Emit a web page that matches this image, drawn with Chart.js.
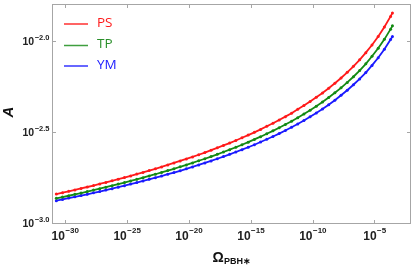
<!DOCTYPE html>
<html><head><meta charset="utf-8">
<script src="https://cdn.jsdelivr.net/npm/chart.js@4/dist/chart.umd.min.js"></script>
<style>html,body{margin:0;padding:0;background:#fff;}canvas{display:block;}</style>
</head><body>
<canvas id="c" width="415" height="265"></canvas>
<script>
// log10(Omega_PBH*) sample positions
const logOmega = [-30.7,-30.2,-29.7,-29.2,-28.7,-28.2,-27.7,-27.2,-26.7,-26.2,-25.7,-25.2,-24.7,-24.2,-23.7,-23.2,-22.7,-22.2,-21.7,-21.2,-20.7,-20.2,-19.7,-19.2,-18.7,-18.2,-17.7,-17.2,-16.7,-16.2,-15.7,-15.2,-14.7,-14.2,-13.7,-13.2,-12.7,-12.2,-11.7,-11.2,-10.7,-10.2,-9.7,-9.2,-8.7,-8.2,-7.7,-7.2,-6.7,-6.2,-5.7,-5.2,-4.7,-4.2,-3.7,-3.55];
// log10(A) for each model
const logA_PS = [-2.840,-2.832,-2.825,-2.817,-2.809,-2.801,-2.793,-2.784,-2.776,-2.767,-2.758,-2.749,-2.740,-2.730,-2.721,-2.711,-2.701,-2.691,-2.680,-2.669,-2.658,-2.647,-2.636,-2.624,-2.612,-2.599,-2.586,-2.573,-2.560,-2.546,-2.531,-2.516,-2.501,-2.485,-2.468,-2.451,-2.433,-2.415,-2.396,-2.375,-2.354,-2.332,-2.309,-2.285,-2.259,-2.232,-2.203,-2.172,-2.139,-2.103,-2.064,-2.022,-1.975,-1.923,-1.865,-1.846];
const logA_TP = [-2.863,-2.856,-2.849,-2.841,-2.834,-2.826,-2.818,-2.810,-2.802,-2.794,-2.785,-2.777,-2.768,-2.759,-2.750,-2.740,-2.731,-2.721,-2.711,-2.701,-2.690,-2.680,-2.669,-2.657,-2.646,-2.634,-2.622,-2.609,-2.596,-2.583,-2.569,-2.555,-2.540,-2.525,-2.509,-2.493,-2.476,-2.458,-2.440,-2.421,-2.401,-2.380,-2.358,-2.335,-2.310,-2.284,-2.257,-2.227,-2.196,-2.162,-2.125,-2.084,-2.040,-1.991,-1.935,-1.917];
const logA_YM = [-2.876,-2.869,-2.862,-2.855,-2.848,-2.841,-2.833,-2.826,-2.818,-2.810,-2.802,-2.794,-2.785,-2.777,-2.768,-2.759,-2.750,-2.741,-2.731,-2.722,-2.712,-2.701,-2.691,-2.680,-2.669,-2.658,-2.646,-2.634,-2.622,-2.609,-2.596,-2.583,-2.569,-2.554,-2.539,-2.524,-2.508,-2.491,-2.473,-2.455,-2.436,-2.416,-2.395,-2.373,-2.350,-2.325,-2.298,-2.270,-2.240,-2.208,-2.173,-2.134,-2.092,-2.045,-1.992,-1.975];
const seriesNames = ['PS','TP','YM'];
const xTickExps = [-30,-25,-20,-15,-10,-5];
const xTickLabels = ['\u221230','\u221225','\u221220','\u221215','\u221210','\u22125'];
const yTickExps = [-3.0,-2.5,-2.0];
const yTickLabels = ['\u22123.0','\u22122.5','\u22122.0'];

const lineColors = ['#ff1a1a','#138a13','#1a1aff'];
const legendLineColors = ['#ff3030','#3f9f3f','#3535ff'];
const legendTextColors = ['#ff1a1a','#2a8f2a','#2020ff'];
const seriesValues = [logA_PS, logA_TP, logA_YM];

const datasets = seriesValues.map((vals, i) => ({
  label: seriesNames[i],
  data: logOmega.map((x, j) => ({x: x, y: vals[j]})),
  borderColor: lineColors[i],
  backgroundColor: lineColors[i],
  borderWidth: 1.8,
  pointRadius: 1.5,
  pointBorderWidth: 0,
  pointBackgroundColor: lineColors[i],
  showLine: true,
  tension: 0
}));

const decor = {
  id: 'decor',
  afterDraw(chart) {
    const ctx = chart.ctx, a = chart.chartArea;
    const xs = chart.scales.x, ys = chart.scales.y;
    ctx.save();
    // frame
    ctx.strokeStyle = '#a6a6a6';
    ctx.lineWidth = 1;
    ctx.strokeRect(a.left + 0.5, a.top + 0.5, a.right - a.left - 1, a.bottom - a.top - 1);
    // ticks
    ctx.beginPath();
    xTickExps.forEach(v => {
      const px = Math.round(xs.getPixelForValue(v)) + 0.5;
      ctx.moveTo(px, a.bottom); ctx.lineTo(px, a.bottom - 4);
      ctx.moveTo(px, a.top); ctx.lineTo(px, a.top + 4);
    });
    yTickExps.forEach(v => {
      const py = Math.round(ys.getPixelForValue(v)) + 0.5;
      ctx.moveTo(a.left, py); ctx.lineTo(a.left + 4, py);
      ctx.moveTo(a.right, py); ctx.lineTo(a.right - 4, py);
    });
    ctx.stroke();

    // x tick labels
    ctx.fillStyle = '#222';
    ctx.textBaseline = 'alphabetic';
    ctx.textAlign = 'left';
    const baseFontX = 'bold 12px "Liberation Sans", Arial, sans-serif';
    const supFontX = 'bold 8px "Liberation Sans", Arial, sans-serif';
    xTickExps.forEach((v, i) => {
      const px = xs.getPixelForValue(v);
      ctx.font = baseFontX; const wb = ctx.measureText('10').width;
      ctx.font = supFontX; const ws = ctx.measureText(xTickLabels[i]).width;
      const x0 = px - (wb + ws) / 2;
      ctx.font = baseFontX; ctx.fillText('10', x0, 239.5);
      ctx.font = supFontX; ctx.fillText(xTickLabels[i], x0 + wb + 0.5, 233);
    });
    // y tick labels
    const baseFontY = 'bold 10.5px "Liberation Sans", Arial, sans-serif';
    const supFontY = 'bold 7.5px "Liberation Sans", Arial, sans-serif';
    yTickExps.forEach((v, i) => {
      const py = ys.getPixelForValue(v);
      ctx.font = supFontY; const ws = ctx.measureText(yTickLabels[i]).width;
      ctx.font = baseFontY; const wb = ctx.measureText('10').width;
      const xr = 49.5;
      ctx.font = supFontY; ctx.fillText(yTickLabels[i], xr - ws, py - 1.5);
      ctx.font = baseFontY; ctx.fillText('10', xr - ws - wb - 0.5, py + 3.5);
    });
    // axis titles
    ctx.fillStyle = '#111';
    ctx.font = 'bold 14px "Liberation Sans", Arial, sans-serif';
    const wO = ctx.measureText('\u03A9').width;
    ctx.font = 'bold 9px "Liberation Sans", Arial, sans-serif';
    const wSub = ctx.measureText('PBH\u2217').width;
    const cx = (a.left + a.right) / 2;
    const tx0 = cx - (wO + wSub) / 2;
    ctx.font = 'bold 14px "Liberation Sans", Arial, sans-serif';
    ctx.fillText('\u03A9', tx0, 261.5);
    ctx.font = 'bold 9px "Liberation Sans", Arial, sans-serif';
    ctx.fillText('PBH\u2217', tx0 + wO + 0.5, 264);

    ctx.save();
    ctx.translate(9, 112);
    ctx.rotate(-Math.PI / 2);
    ctx.font = 'italic bold 15px "Liberation Sans", Arial, sans-serif';
    ctx.textAlign = 'center';
    ctx.textBaseline = 'middle';
    ctx.fillText('A', 0, 0);
    ctx.restore();

    // legend
    const rowsY = [24, 45.5, 66];
    ctx.font = '13.5px "Open Sans", "Liberation Sans", sans-serif';
    ctx.textBaseline = 'middle';
    ctx.textAlign = 'left';
    seriesNames.forEach((n, i) => {
      ctx.strokeStyle = legendLineColors[i];
      ctx.lineWidth = 1.5;
      ctx.beginPath();
      ctx.moveTo(64, rowsY[i]); ctx.lineTo(88, rowsY[i]);
      ctx.stroke();
      ctx.fillStyle = legendTextColors[i];
      ctx.fillText(n, 97, rowsY[i] - 1);
    });
    ctx.restore();
  }
};

new Chart(document.getElementById('c'), {
  type: 'scatter',
  data: { datasets },
  options: {
    responsive: false,
    animation: false,
    devicePixelRatio: 1,
    layout: { padding: { left: 52, right: 3, top: 2, bottom: 41 } },
    scales: {
      x: { type: 'linear', min: -31.05, max: -2.05, display: false },
      y: { type: 'linear', min: -3.004, max: -1.797, display: false }
    },
    plugins: { legend: { display: false }, tooltip: { enabled: false } }
  },
  plugins: [decor]
});
</script>
</body></html>
